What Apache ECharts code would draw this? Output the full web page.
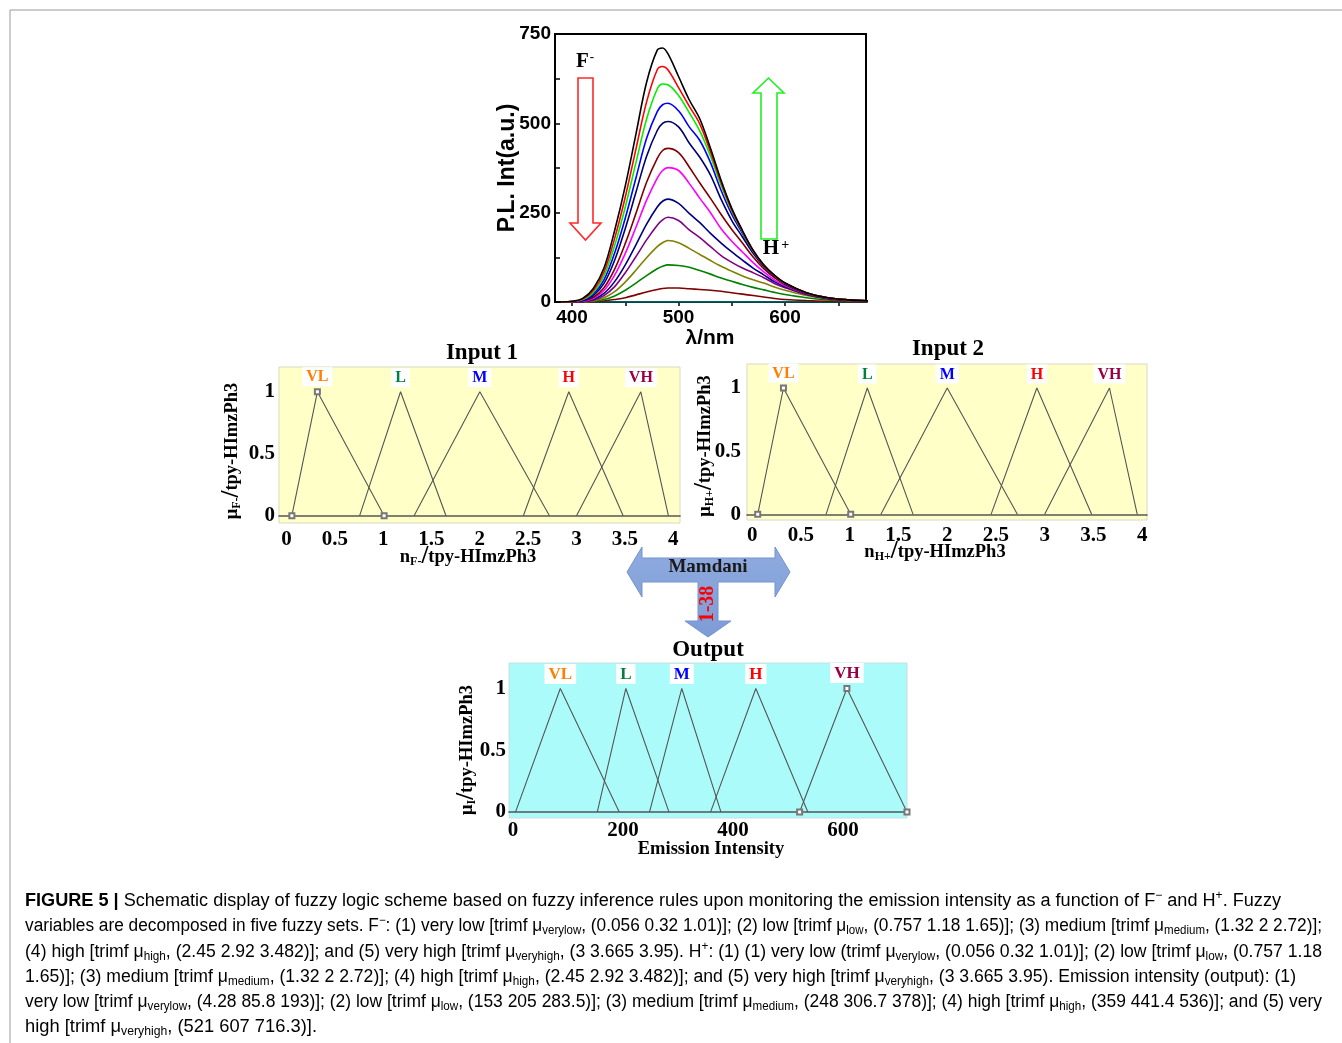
<!DOCTYPE html>
<html><head><meta charset="utf-8">
<script src="https://cdn.jsdelivr.net/npm/echarts@6/dist/echarts.min.js"></script>
<style>html,body{margin:0;padding:0;background:#fff}#c{width:1342px;height:1043px}</style>
</head><body><div id="c"></div>
<script>
// ---------------- DATA ----------------
const wavelengths = [390,400,410,420,430,440,450,460,470,480,485,490,500,510,520,530,540,550,560,570,580,590,600,620,640,660,680];
const specBlack     = [0,2,10,38,95,200,325,470,615,705,711,695,631,566,512,430,340,262,200,145,104,75,53,26,12,6,3];
const specRed       = [0,1,8,32,84,178,294,428,560,650,659,650,600,548,498,420,334,258,198,144,103,74,53,26,12,6,3];
const specGreen     = [0,1,7,27,73,158,266,390,512,596,610,608,578,530,478,408,326,254,196,143,103,74,52,26,12,6,3];
const specBlue      = [0,1,5,22,62,137,235,347,458,533,552,556,535,490,452,390,312,245,192,141,102,73,52,26,12,6,3];
const specNavy      = [0,0,4,18,52,117,206,307,408,480,500,505,490,445,405,355,287,228,182,136,99,72,51,25,12,6,3];
const specMaroon    = [0,0,3,13,40,92,164,248,335,402,424,430,418,378,333,290,245,203,165,126,93,68,49,24,11,5,2];
const specMagenta   = [0,0,2,10,32,75,136,209,285,347,368,376,368,332,290,250,205,170,140,110,84,62,46,23,11,5,2];
const specDarkBlue  = [0,0,1,7,24,57,104,160,218,266,282,288,276,248,222,192,165,140,117,95,76,57,43,22,10,5,2];
const specPurple    = [0,0,1,5,18,43,82,127,174,215,230,237,228,202,180,155,130,111,95,82,68,52,40,21,9,4,2];
const specOlive     = [0,0,0,3,12,29,56,89,124,155,166,172,166,150,133,116,100,86,73,62,53,42,33,18,9,4,2];
const specGreenDark = [0,0,0,2,7,17,33,53,74,93,100,104,102,97,88,78,67,58,49,41,34,27,21,12,6,3,1];
const specMaroonLow = [0,0,0,1,3,7,12,20,28,35,38,39,39,37,35,33,30,26,22,18,14,10,7,4,2,1,0];
const specTeal      = [0,0,0,0,0,0,0,0,0,0,0,0,0,0,0,0,0,0,0,0,0,0,0,0,0,0,0];

const specXTicks = [400,450,500,550,600,650];
const specXLabels = [400,500,600];

const setNames = ['VL','L','M','H','VH'];
const input1Sets = [[0.056,0.32,1.01],[0.757,1.18,1.65],[1.32,2,2.72],[2.45,2.92,3.482],[3,3.665,3.95]];
const input2Sets = [[0.056,0.32,1.01],[0.757,1.18,1.65],[1.32,2,2.72],[2.45,2.92,3.482],[3,3.665,3.95]];
const outputSets = [[4.28,85.8,193],[153,205,283.5],[248,306.7,378],[359,441.4,536],[521,607,716.3]];
const inputXLabels = [0,0.5,1,1.5,2,2.5,3,3.5,4];
const outputXLabels = [0,200,400,600];
const muLabels = [0,0.5,1];

const captionLines = [
 "**FIGURE 5 |** Schematic display of fuzzy logic scheme based on fuzzy inference rules upon monitoring the emission intensity as a function of F^{−} and H^{+}. Fuzzy",
 "variables are decomposed in five fuzzy sets. F^{−}: (1) very low [trimf μ_{verylow}, (0.056 0.32 1.01)]; (2) low [trimf μ_{low}, (0.757 1.18 1.65)]; (3) medium [trimf μ_{medium}, (1.32 2 2.72)];",
 "(4) high [trimf μ_{high}, (2.45 2.92 3.482)]; and (5) very high [trimf μ_{veryhigh}, (3 3.665 3.95). H^{+}: (1) (1) very low (trimf μ_{verylow}, (0.056 0.32 1.01)]; (2) low [trimf μ_{low}, (0.757 1.18",
 "1.65)]; (3) medium [trimf μ_{medium}, (1.32 2 2.72)]; (4) high [trimf μ_{high}, (2.45 2.92 3.482)]; and (5) very high [trimf μ_{veryhigh}, (3 3.665 3.95). Emission intensity (output): (1)",
 "very low [trimf μ_{verylow}, (4.28 85.8 193)]; (2) low [trimf μ_{low}, (153 205 283.5)]; (3) medium [trimf μ_{medium}, (248 306.7 378)]; (4) high [trimf μ_{high}, (359 441.4 536)]; and (5) very",
 "high [trimf μ_{veryhigh}, (521 607 716.3)]."
];

// ---------------- STYLE ----------------
const SERIF = '"Liberation Serif","Times New Roman",serif';
const SANS = '"Liberation Sans",Arial,sans-serif';
const specList = [
  [specTeal,'#008080'],[specMaroonLow,'#800000'],[specGreenDark,'#008000'],[specOlive,'#808000'],
  [specPurple,'#800080'],[specDarkBlue,'#000080'],[specMagenta,'#ff00ff'],[specMaroon,'#800000'],
  [specNavy,'#000070'],[specBlue,'#0000ff'],[specGreen,'#00ee00'],[specRed,'#ff0000'],[specBlack,'#000000']
];
const setColors = ['#ff8000','#008040','#0000ff','#ff0000','#990044'];

const chart = echarts.init(document.getElementById('c'), null, {renderer:'canvas'});

const series = [];
specList.forEach(([vals,color]) => {
  series.push({
    type:'line', xAxisIndex:0, yAxisIndex:0, smooth:0.35, showSymbol:false, silent:true,
    data: wavelengths.map((w,j)=>[w, vals[j]]),
    lineStyle:{color, width:1.6}
  });
});

function fuzzySeries(sets, idx, markerSet, fs) {
  sets.forEach((t,i) => {
    const mk = i === markerSet;
    series.push({
      type:'line', xAxisIndex:idx, yAxisIndex:idx, silent:true,
      showSymbol:true, showAllSymbol:true,
      symbol: mk ? 'emptyRect' : 'circle', symbolSize: mk ? 5 : 1,
      itemStyle:{color: mk ? '#777' : 'rgba(0,0,0,0)'},
      lineStyle:{color:'#555', width:1.1},
      label:{show:false},
      data:[[t[0],0], {value:[t[1],1], label:{
        show:true, position:'top', distance: mk ? 2 : 4, formatter: setNames[i],
        color:setColors[i], fontFamily:SERIF, fontWeight:'bold', fontSize:fs,
        backgroundColor:'#ffffff', padding:[1,4,0,4], lineHeight:fs+2
      }}, [t[2],0]]
    });
  });
}
fuzzySeries(input1Sets, 1, 0, 16);
fuzzySeries(input2Sets, 2, 0, 16);
fuzzySeries(outputSets, 3, 4, 17);

const tickFont = {color:'#000', fontFamily:SERIF, fontWeight:'bold', fontSize:21};
function fuzzyX(grid, min, max, labels, margin) {
  return {gridIndex:grid, type:'value', min, max,
    axisLine:{show:true, onZero:true, lineStyle:{color:'#555', width:1.6}},
    axisTick:{show:false}, splitLine:{show:false},
    axisLabel:Object.assign({customValues:labels, margin, formatter:v=>String(v)}, tickFont)};
}
function fuzzyY(grid, min, max, margin) {
  return {gridIndex:grid, type:'value', min, max,
    axisLine:{show:false}, axisTick:{show:false}, splitLine:{show:false},
    axisLabel:Object.assign({customValues:muLabels, margin, formatter:v=>String(v)}, tickFont)};
}

// ---------------- CAPTION (rich text, scaled to justified width) ----------------
const capFonts = {
  n:'normal 18px "Liberation Sans"', b:'bold 18px "Liberation Sans"',
  s:'normal 12px "Liberation Sans"', p:'normal 12px "Liberation Sans"'
};
const mctx = document.createElement('canvas').getContext('2d');
function parseRich(line) {
  const parts = line.split(/(\*\*[^*]+\*\*|_\{[^}]*\}|\^\{[^}]*\})/).filter(s=>s.length);
  let rich='', width=0;
  parts.forEach(p => {
    let st='n', txt=p;
    if (p.startsWith('**')) {st='b'; txt=p.slice(2,-2);}
    else if (p.startsWith('_{')) {st='s'; txt=p.slice(2,-1);}
    else if (p.startsWith('^{')) {st='p'; txt=p.slice(2,-1);}
    mctx.font = capFonts[st];
    width += mctx.measureText(txt).width;
    rich += '{'+st+'|'+txt+'}';
  });
  return {rich, width};
}
const capColor = '#231f20';
const capRich = {
  n:{fontFamily:'Liberation Sans', fontSize:18, color:capColor, lineHeight:22},
  b:{fontFamily:'Liberation Sans', fontSize:18, fontWeight:'bold', color:capColor, lineHeight:22},
  s:{fontFamily:'Liberation Sans', fontSize:12, color:capColor, lineHeight:12, padding:[10,0,0,0]},
  p:{fontFamily:'Liberation Sans', fontSize:12, color:capColor, lineHeight:12, padding:[0,0,10,0]}
};
const capY = [901, 926, 952, 977, 1002, 1027];
const capW = [1256, 1297, 1297, 1271, 1297, 292];
const graphics = [];
captionLines.forEach((ln,i) => {
  const r = parseRich(ln);
  graphics.push({type:'text', x:25, y:capY[i], scaleX: capW[i]/r.width, z:100, silent:true,
    style:{text:r.rich, rich:capRich, textAlign:'left', textVerticalAlign:'middle', verticalAlign:'middle'}});
});

// frame lines
graphics.push({type:'line', shape:{x1:10,y1:10,x2:1342,y2:10}, style:{stroke:'#9a9a9a', lineWidth:1}, silent:true});
graphics.push({type:'line', shape:{x1:10,y1:10,x2:10,y2:1043}, style:{stroke:'#9a9a9a', lineWidth:1}, silent:true});

function txt(x,y,text,opts) {
  graphics.push(Object.assign({type:'text', x, y, z:100, silent:true,
    style:Object.assign({text, textAlign:'center', textVerticalAlign:'middle', verticalAlign:'middle', fill:'#000'}, opts.style||{})},
    opts.rotation!==undefined?{rotation:opts.rotation}:{}));
}
const nameRich = {
  n:{fontFamily:SERIF, fontWeight:'bold', fontSize:18.5, color:'#111', lineHeight:22},
  s:{fontFamily:SERIF, fontWeight:'bold', fontSize:12, color:'#111', lineHeight:12, padding:[10,0,0,0]},
  sl:{fontFamily:SERIF, fontWeight:'bold', fontSize:25, color:'#111', lineHeight:22}
};
const titleStyle = {fontFamily:SERIF, fontWeight:'bold', fontSize:23, fill:'#000'};

// spectrum texts
txt(508,168,'P.L. Int(a.u.)',{rotation:Math.PI/2, style:{fontFamily:SANS, fontWeight:'bold', fontSize:23}});
txt(710,338,'λ/nm',{style:{fontFamily:SANS, fontWeight:'bold', fontSize:21}});
txt(585,62,'{a|F}{b|-}',{style:{rich:{a:{fontFamily:SERIF,fontWeight:'bold',fontSize:21,color:'#ff0000',lineHeight:22},b:{fontFamily:SERIF,fontWeight:'bold',fontSize:13,color:'#ff0000',lineHeight:13,padding:[0,0,9,1]}}}});
txt(776,249,'{a|H}{b|+}',{style:{rich:{a:{fontFamily:SERIF,fontWeight:'bold',fontSize:21,color:'#138a4a',lineHeight:22},b:{fontFamily:SERIF,fontWeight:'bold',fontSize:14,color:'#138a4a',lineHeight:14,padding:[0,0,8,2]}}}});
// hollow arrows
graphics.push({type:'polygon', z:50, silent:true, shape:{points:[[578,78],[593,78],[593,223],[601,223],[585.5,240],[570,223],[578,223]]}, style:{fill:'#fff', stroke:'#ff2a2a', lineWidth:1.6}});
graphics.push({type:'polygon', z:50, silent:true, shape:{points:[[761,239],[777,239],[777,93],[784,93],[768.5,78],[753,93],[761,93]]}, style:{fill:'#fff', stroke:'#22ee22', lineWidth:1.6}});

// fuzzy titles & names
txt(482,353,'Input 1',{style:titleStyle});
txt(948,349,'Input 2',{style:titleStyle});
txt(708,650,'Output',{style:titleStyle});
txt(468,557,'{n|n}{s|F-}{sl|/}{n|tpy-HImzPh3}',{style:{rich:nameRich}});
txt(935,552,'{n|n}{s|H+}{sl|/}{n|tpy-HImzPh3}',{style:{rich:nameRich}});
txt(711,849,'{n|Emission Intensity}',{style:{rich:nameRich}});
txt(232,451,'{n|μ}{s|F-}{sl|/}{n|tpy-HImzPh3}',{rotation:Math.PI/2, style:{rich:nameRich}});
txt(705,446,'{n|μ}{s|H+}{sl|/}{n|tpy-HImzPh3}',{rotation:Math.PI/2, style:{rich:nameRich}});
txt(467,750,'{n|μ}{s|I}{sl|/}{n|tpy-HImzPh3}',{rotation:Math.PI/2, style:{rich:nameRich}});

// Mamdani arrow
graphics.push({type:'polygon', z:40, silent:true, shape:{points:[
  [627,572],[642,547],[642,558],[775,558],[775,547],[790,572],[775,597],[775,582],[718,582],
  [718,621],[731,621],[708,637],[685,621],[698,621],[698,582],[642,582],[642,597]]},
  style:{fill:{type:'linear',x:0,y:0,x2:0,y2:1,colorStops:[{offset:0,color:'#8fabdf'},{offset:1,color:'#7d9bd6'}]}, stroke:'#7593cf', lineWidth:1}});
txt(708,567,'Mamdani',{style:{fontFamily:SERIF, fontWeight:'bold', fontSize:19, fill:'#1a1a1a'}});
txt(708,604,'1-38',{rotation:Math.PI/2, style:{fontFamily:SERIF, fontWeight:'bold', fontSize:20, fill:'#ff0000'}});

const option = {
  animation:false,
  backgroundColor:'#ffffff',
  grid:[
    {left:555, top:34, width:311, height:268, show:true, borderColor:'#000', borderWidth:2, backgroundColor:'transparent'},
    {left:279, top:367, width:401, height:156, show:true, backgroundColor:'#ffffc8', borderColor:'#d8d8c8', borderWidth:1},
    {left:747, top:364, width:400, height:156, show:true, backgroundColor:'#ffffc8', borderColor:'#d8d8c8', borderWidth:1},
    {left:509, top:663, width:398, height:155, show:true, backgroundColor:'#acfbfb', borderColor:'#c8dede', borderWidth:1}
  ],
  xAxis:[
    {gridIndex:0, type:'value', min:384, max:676,
     axisLine:{show:true, onZero:false, lineStyle:{color:'#000', width:2}},
     axisTick:{show:true, customValues:specXTicks, inside:false, length:4, lineStyle:{color:'#000', width:1.5}},
     splitLine:{show:false},
     axisLabel:{customValues:specXLabels, margin:6, color:'#000', fontFamily:SANS, fontWeight:'bold', fontSize:19}},
    fuzzyX(1, -0.077, 4.07, inputXLabels, 6),
    fuzzyX(2, -0.054, 4.05, inputXLabels, 5),
    fuzzyX(3, -7.5, 716.3, outputXLabels, 2)
  ],
  yAxis:[
    {gridIndex:0, type:'value', min:0, max:750, interval:250,
     axisLine:{show:true, lineStyle:{color:'#000', width:2}},
     axisTick:{show:true, inside:true, length:5, lineStyle:{color:'#000', width:1.5}},
     minorTick:{show:true, splitNumber:2, length:5, lineStyle:{color:'#000', width:1.5}},
     splitLine:{show:false}, minorSplitLine:{show:false},
     axisLabel:{margin:4, color:'#000', fontFamily:SANS, fontWeight:'bold', fontSize:19}},
    fuzzyY(1, -0.059, 1.2, 4),
    fuzzyY(2, -0.045, 1.19, 6),
    fuzzyY(3, -0.048, 1.206, 3)
  ],
  series,
  graphic:graphics
};
chart.setOption(option);
</script></body></html>
